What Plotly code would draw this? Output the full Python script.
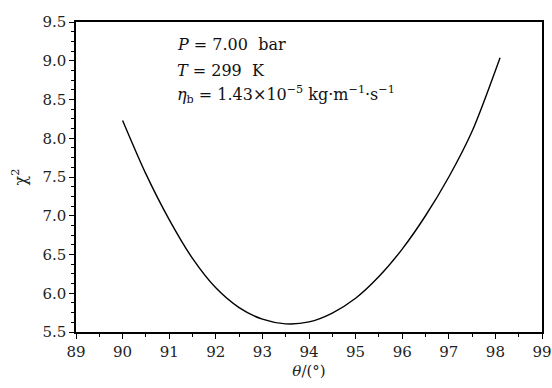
import plotly.graph_objects as go

theta = [90.0, 90.5, 91.0, 91.5, 92.0, 92.5, 93.0, 93.5, 94.0, 94.5, 95.0, 95.5, 96.0, 96.5, 97.0, 97.5, 98.1]
chi2 = [8.23, 7.54, 6.95, 6.45, 6.07, 5.815, 5.665, 5.605, 5.63, 5.745, 5.935, 6.215, 6.57, 7.00, 7.50, 8.09, 9.04]

x_ticks = list(range(89, 100))
y_ticks = [5.5, 6.0, 6.5, 7.0, 7.5, 8.0, 8.5, 9.0, 9.5]

info_lines = [
    "<i>P</i> = 7.00  bar",
    "<i>T</i> = 299  K",
    "<i>η</i><sub>b</sub> = 1.43×10<sup>−5</sup> kg·m<sup>−1</sup>·s<sup>−1</sup>",
]
info_y = [0.926, 0.845, 0.765]

FONT = "DejaVu Serif"

fig = go.Figure()
fig.add_trace(go.Scatter(x=theta, y=chi2, mode="lines",
                         line=dict(color="black", width=1.4, shape="spline", smoothing=0.8),
                         showlegend=False, hoverinfo="skip"))

axis_common = dict(showgrid=False, zeroline=False, showline=True, linecolor="black",
                   linewidth=1.5, mirror=True, ticks="outside", ticklen=5, tickwidth=1.3,
                   tickcolor="black", automargin=False,
                   tickfont=dict(family=FONT, size=15, color="#222"))

fig.update_xaxes(range=[89, 99], tickvals=x_ticks, ticktext=[str(v) for v in x_ticks],
                 minor=dict(dtick=0.5, ticks="outside", ticklen=3, tickcolor="black", tickwidth=1.2),
                 title=dict(text="<i>θ</i>/(°)", font=dict(family=FONT, size=15, color="#222"), standoff=6),
                 **axis_common)
fig.update_yaxes(range=[5.5, 9.5], tickvals=y_ticks, ticktext=[f"{v:.1f}" for v in y_ticks],
                 minor=dict(dtick=0.125, ticks="outside", ticklen=3, tickcolor="black", tickwidth=1.2),
                 title=dict(text="χ<sup>2</sup>", font=dict(family=FONT, size=16, color="#222"), standoff=12),
                 **axis_common)

for txt, yy in zip(info_lines, info_y):
    fig.add_annotation(xref="paper", yref="paper", x=0.213, y=yy, xanchor="left", yanchor="middle",
                       align="left", showarrow=False, text=txt,
                       font=dict(family=FONT, size=16, color="#111"))

fig.update_layout(width=552, height=388, margin=dict(l=76, r=10, t=22, b=56),
                  plot_bgcolor="white", paper_bgcolor="white")

fig.write_html("out.html", config={"displayModeBar": False},
               post_script="document.body.style.margin='0';")
